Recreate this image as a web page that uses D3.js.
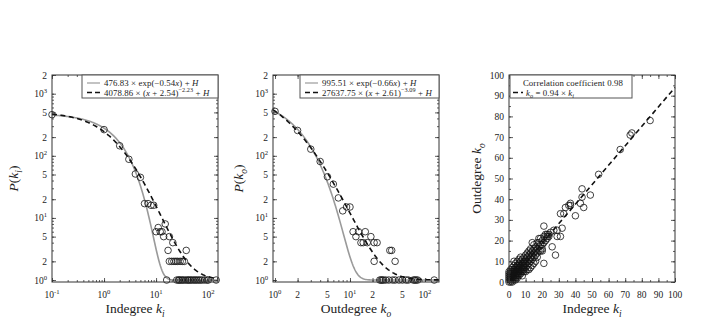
<!DOCTYPE html>
<html>
<head>
<meta charset="utf-8">
<script src="https://cdnjs.cloudflare.com/ajax/libs/d3/7.8.5/d3.min.js"></script>
<style>
  body { margin: 0; background: #fff; }
  text { font-family: "Liberation Serif", "DejaVu Serif", serif; fill: #222; }
</style>
</head>
<body>
<script>
// indegree distribution (k = 0 drawn at 0.1)
let inK   = [0.1, 1, 2, 3, 4, 5, 6, 7, 8, 9, 10, 11, 12, 13, 14, 15, 16, 17, 18, 21, 38,
             18, 20, 22, 24, 26, 29, 32, 35,
             25, 27, 28, 30, 32, 34, 37, 40, 42, 45, 48, 52, 56, 60, 65, 70, 76, 85, 95, 101, 143];
let inP   = [460, 264, 145, 88, 51, 45, 17, 17, 16, 16, 6, 7, 6, 6, 5, 8, 1, 3, 5, 4, 3,
             2, 2, 2, 2, 2, 2, 2, 2,
             1, 1, 1, 1, 1, 1, 1, 1, 1, 1, 1, 1, 1, 1, 1, 1, 1, 1, 1, 1, 1];

// outdegree distribution
let outK  = [1, 2, 3, 4, 5, 6, 7, 8, 9, 10, 11, 12, 13, 14, 15, 16, 17, 19, 21, 23, 21, 34, 36, 40,
             25, 26, 27, 28, 30, 33, 37, 40, 45, 50, 56, 60, 70, 73, 76, 80, 133];
let outP  = [520, 256, 128, 81, 46, 35, 21, 13, 15, 15, 6, 5, 6, 4, 4, 6, 4, 5, 4, 4, 2, 3, 3, 2,
             1, 1, 1, 1, 1, 1, 1, 1, 1, 1, 1, 1, 1, 1, 1, 1, 1];

// fitted curves, parameters as in the legends (H = 1)
let fitIn  = {a: 476.83, b: 0.54, c: 4078.86, d: 2.54, e: 2.23, h: 1};
let fitOut = {a: 995.51, b: 0.66, c: 27637.75, d: 2.61, e: 3.09, h: 1};

// [indegree, outdegree] per node
let degreePairs = [
  [0,0],[0,1],[0,2],[0,3],[0,4],[0,5],
  [1,0],[1,1],[1,2],[1,3],[1,4],[1,5],[1,6],
  [2,0],[2,1],[2,2],[2,3],[2,4],[2,5],[2,6],[2,7],
  [3,1],[3,2],[3,3],[3,4],[3,5],[3,6],[3,8],[3,10],
  [4,1],[4,2],[4,3],[4,4],[4,5],[4,6],[4,7],[4,9],
  [5,2],[5,3],[5,4],[5,5],[5,6],[5,7],[5,8],[5,10],
  [6,3],[6,4],[6,5],[6,6],[6,7],[6,8],[6,9],[6,11],
  [7,4],[7,5],[7,6],[7,7],[7,8],[7,10],[7,12],
  [8,3],[8,5],[8,6],[8,7],[8,8],[8,9],[8,11],
  [9,5],[9,6],[9,7],[9,8],[9,9],[9,10],[9,12],
  [10,5],[10,7],[10,9],[10,10],[10,11],[10,13],
  [11,6],[11,8],[11,10],[11,12],[11,14],
  [12,6],[12,9],[12,11],[12,13],[12,15],
  [13,7],[13,10],[13,12],[13,14],[13,16],
  [14,8],[14,11],[14,13],[14,15],[14,19],
  [15,9],[15,12],[15,14],[15,16],[15,18],
  [16,10],[16,13],[16,15],[16,17],
  [17,12],[17,14],[17,16],[17,19],
  [18,15],[18,17],[18,19],[18,21],
  [19,15],[19,18],[19,21],
  [20,15],[20,16],[20,18],[20,20],
  [21,19],[21,22],[22,20],[22,23],[23,21],[23,22],[23,23],[24,22],[24,23],[25,24],
  [21,9],[21,27],[28,13],[26,17],[27,25],[29,25],[29,22],[31,22],[32,26],[31,33],
  [33,33],[34,36],[36,37],[37,38],[37,37],[40,32],[43,38],[44,41],[44,45],[45,36],
  [49,42],[54,52],[67,64],[73,71],[74,72],[85,78]
];
let slope = 0.94;

let logYTicks = [1, 2, 5, 10, 20, 50, 100, 200, 500, 1000, 2000];
let inXTicks  = [0.1, 1, 10, 100];
let outXTicks = [1, 2, 5, 10, 20, 50, 100];
let linTicks  = [0, 10, 20, 30, 40, 50, 60, 70, 80, 90, 100];

let width = 714, height = 329;
let plotTop = 75, plotBot = 282;
let panels = [{l: 52, r: 218}, {l: 273, r: 439}, {l: 509, r: 675}];
let tickSize = 9.5, titleSize = 13.5, legSize = 8.8;

let svg = d3.select("body").append("svg").attr("width", width).attr("height", height);

// write text with italic / sub / sup pieces
function rich(g, x, y, parts, size, anchor) {
  let t = g.append("text").attr("x", x).attr("y", y).attr("font-size", size)
           .attr("text-anchor", anchor || "start");
  let shift = 0;
  parts.forEach(p => {
    if (typeof p === "string") p = {t: p};
    let target = p.sub ? size * 0.28 : p.sup ? -size * 0.42 : 0;
    let ts = t.append("tspan").text(p.t).attr("dy", target - shift);
    if (p.sub || p.sup) ts.attr("font-size", size * 0.7);
    if (p.i) ts.attr("font-style", "italic");
    shift = target;
  });
  return t;
}

function logLabel(v) {
  let e = Math.log10(v);
  if (Math.abs(e - Math.round(e)) < 1e-9) return ["10", {t: String(Math.round(e)), sup: true}];
  return [String(Math.round(v / Math.pow(10, Math.floor(e))))];
}

function minorLog(domain) {
  let out = [];
  for (let d = Math.floor(Math.log10(domain[0])); d <= Math.ceil(Math.log10(domain[1])); d++)
    for (let m = 1; m < 10; m++) {
      let v = m * Math.pow(10, d);
      if (v >= domain[0] && v <= domain[1]) out.push(v);
    }
  return out;
}

function ticksAll(g, x, y, xMaj, xMin, yMaj, yMin, w, h) {
  let strip = s => s.call(a => a.select(".domain").remove());
  g.append("g").attr("transform", `translate(0,${h})`).call(d3.axisBottom(x).tickValues(xMin).tickSize(-2).tickFormat("")).call(strip);
  g.append("g").attr("transform", `translate(0,${h})`).call(d3.axisBottom(x).tickValues(xMaj).tickSize(-4).tickFormat("")).call(strip);
  g.append("g").call(d3.axisTop(x).tickValues(xMin).tickSize(-2).tickFormat("")).call(strip);
  g.append("g").call(d3.axisTop(x).tickValues(xMaj).tickSize(-4).tickFormat("")).call(strip);
  g.append("g").call(d3.axisLeft(y).tickValues(yMin).tickSize(-2).tickFormat("")).call(strip);
  g.append("g").call(d3.axisLeft(y).tickValues(yMaj).tickSize(-4).tickFormat("")).call(strip);
  g.append("g").attr("transform", `translate(${w},0)`).call(d3.axisRight(y).tickValues(yMin).tickSize(-2).tickFormat("")).call(strip);
  g.append("g").attr("transform", `translate(${w},0)`).call(d3.axisRight(y).tickValues(yMaj).tickSize(-4).tickFormat("")).call(strip);
  g.selectAll(".tick line").attr("stroke", "#333").attr("stroke-width", 0.8);
  g.append("rect").attr("width", w).attr("height", h).attr("fill", "none").attr("stroke", "#333").attr("stroke-width", 1);
}

function legendBox(g, x0, y0, w, h) {
  g.append("rect").attr("x", x0).attr("y", y0).attr("width", w).attr("height", h)
   .attr("fill", "#fff").attr("stroke", "#555").attr("stroke-width", 1);
}

function legText(g, x, y, parts, anchor) {
  return rich(g, x, y, parts, legSize, anchor).attr("letter-spacing", 0.1);
}

function distPanel(p, ks, ps, xDom, xTicks, fit, xlab, sub, ylabX) {
  let w = p.r - p.l, h = plotBot - plotTop;
  let g = svg.append("g").attr("transform", `translate(${p.l},${plotTop})`);
  let x = d3.scaleLog().domain(xDom).range([0, w]);
  let y = d3.scaleLog().domain([0.93, 2000]).range([h, 0]);

  let lo = Math.log10(xDom[0]), hi = Math.log10(xDom[1]);
  let xs = d3.range(200).map(i => Math.pow(10, lo + (hi - lo) * i / 199));
  let expLine = d3.line().x(v => x(v)).y(v => y(fit.a * Math.exp(-fit.b * v) + fit.h));
  let powLine = d3.line().x(v => x(v)).y(v => y(fit.c * Math.pow(v + fit.d, -fit.e) + fit.h));

  g.append("path").attr("d", expLine(xs)).attr("fill", "none").attr("stroke", "#9a9a9a").attr("stroke-width", 1.6);
  g.append("path").attr("d", powLine(xs)).attr("fill", "none").attr("stroke", "#111")
   .attr("stroke-width", 1.6).attr("stroke-dasharray", "5,3.5");

  g.selectAll("circle").data(ks).enter().append("circle")
   .attr("cx", (d) => x(d)).attr("cy", (d, i) => y(ps[i])).attr("r", 3.3)
   .attr("fill", "none").attr("stroke", "#111").attr("stroke-width", 0.8);

  ticksAll(g, x, y, xTicks, minorLog(xDom), logYTicks, minorLog([0.93, 2000]), w, h);

  xTicks.forEach(v => rich(g, x(v), h + 16, logLabel(v), tickSize, "middle"));
  logYTicks.forEach(v => rich(g, -5, y(v) + 3.5, logLabel(v), tickSize, "end"));

  rich(g, w / 2, h + 31, [xlab + " ", {t: "k", i: true}, {t: sub, i: true, sub: true}], titleSize, "middle");
  let yl = g.append("g").attr("transform", `translate(${ylabX},${h / 2}) rotate(-90)`);
  rich(yl, 0, 0, [{t: "P", i: true}, "(", {t: "k", i: true}, {t: sub, i: true, sub: true}, ")"], titleSize, "middle");

  return g;
}

let g1 = distPanel(panels[0], inK, inP, [0.1, 155], inXTicks, fitIn, "Indegree", "i", -34);
legendBox(g1, 30, 0, 136, 23);
g1.append("line").attr("x1", 35).attr("x2", 48).attr("y1", 8).attr("y2", 8).attr("stroke", "#9a9a9a").attr("stroke-width", 1.2);
g1.append("line").attr("x1", 35).attr("x2", 48).attr("y1", 17.5).attr("y2", 17.5).attr("stroke", "#111").attr("stroke-width", 1.4).attr("stroke-dasharray", "5,3");
legText(g1, 52, 10.5, ["476.83 × exp(−0.54", {t: "x", i: true}, ") + ", {t: "H", i: true}]);
legText(g1, 52, 20.5, ["4078.86 × (", {t: "x", i: true}, " + 2.54)", {t: "−2.23", sup: true}, " + ", {t: "H", i: true}]);

let g2 = distPanel(panels[1], outK, outP, [0.94, 154], outXTicks, fitOut, "Outdegree", "o", -30);
legendBox(g2, 27, 0, 139, 23);
g2.append("line").attr("x1", 32).attr("x2", 45).attr("y1", 8).attr("y2", 8).attr("stroke", "#9a9a9a").attr("stroke-width", 1.2);
g2.append("line").attr("x1", 32).attr("x2", 45).attr("y1", 17.5).attr("y2", 17.5).attr("stroke", "#111").attr("stroke-width", 1.4).attr("stroke-dasharray", "5,3");
legText(g2, 49, 10.5, ["995.51 × exp(−0.66", {t: "x", i: true}, ") + ", {t: "H", i: true}]);
legText(g2, 49, 20.5, ["27637.75 × (", {t: "x", i: true}, " + 2.61)", {t: "−3.09", sup: true}, " + ", {t: "H", i: true}]);

// scatter panel
(function () {
  let p = panels[2], w = p.r - p.l, h = plotBot - plotTop;
  let g = svg.append("g").attr("transform", `translate(${p.l},${plotTop})`);
  let x = d3.scaleLinear().domain([0, 100]).range([0, w]);
  let y = d3.scaleLinear().domain([0, 100]).range([h, 0]);

  g.selectAll("circle").data(degreePairs).enter().append("circle")
   .attr("cx", (d) => x(d[0])).attr("cy", (d) => y(d[1])).attr("r", 3.3)
   .attr("fill", "none").attr("stroke", "#111").attr("stroke-width", 0.8);

  g.append("line").attr("x1", x(0)).attr("y1", y(0)).attr("x2", x(100)).attr("y2", y(100 * slope))
   .attr("stroke", "#111").attr("stroke-width", 1.6).attr("stroke-dasharray", "5,3.5");

  let minor = d3.range(0, 101, 5);
  ticksAll(g, x, y, linTicks, minor, linTicks, minor, w, h);
  linTicks.forEach(v => rich(g, x(v), h + 16, [String(v)], tickSize, "middle"));
  linTicks.forEach(v => rich(g, -5, y(v) + 3.5, [String(v)], tickSize, "end"));

  rich(g, w / 2, h + 31, ["Indegree ", {t: "k", i: true}, {t: "i", i: true, sub: true}], titleSize, "middle");
  let yl = g.append("g").attr("transform", `translate(-28,${h / 2}) rotate(-90)`);
  rich(yl, 0, 0, ["Outdegree ", {t: "k", i: true}, {t: "o", i: true, sub: true}], titleSize, "middle");

  legendBox(g, 1, 0, 122, 23);
  legText(g, 114, 10.5, ["Correlation coefficient 0.98"], "end");
  g.append("line").attr("x1", 4).attr("x2", 14).attr("y1", 17.5).attr("y2", 17.5).attr("stroke", "#111").attr("stroke-width", 1.4).attr("stroke-dasharray", "5,3");
  legText(g, 17, 20.5, [{t: "k", i: true}, {t: "o", i: true, sub: true}, " = 0.94 × ", {t: "k", i: true}, {t: "i", i: true, sub: true}]);
})();
</script>
</body>
</html>
